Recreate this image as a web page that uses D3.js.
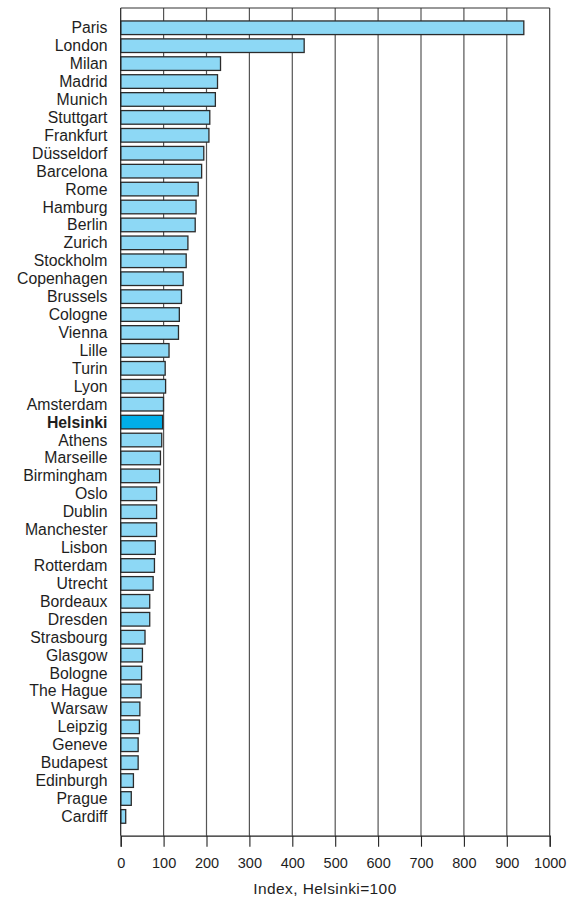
<!DOCTYPE html>
<html>
<head>
<meta charset="utf-8">
<script src="https://cdn.jsdelivr.net/npm/d3@7"></script>
<style>
  html, body { margin: 0; padding: 0; background: #fff; }
  svg { display: block; font-family: "Liberation Sans", Arial, Helvetica, sans-serif; }
</style>
</head>
<body>
<svg id="chart" width="574" height="899"></svg>
<script>
const cities = ["Paris","London","Milan","Madrid","Munich","Stuttgart","Frankfurt","Düsseldorf","Barcelona","Rome","Hamburg","Berlin","Zurich","Stockholm","Copenhagen","Brussels","Cologne","Vienna","Lille","Turin","Lyon","Amsterdam","Helsinki","Athens","Marseille","Birmingham","Oslo","Dublin","Manchester","Lisbon","Rotterdam","Utrecht","Bordeaux","Dresden","Strasbourg","Glasgow","Bologne","The Hague","Warsaw","Leipzig","Geneve","Budapest","Edinburgh","Prague","Cardiff"];
const values = [942,430,235,228,223,210,208,196,191,183,178,176,159,155,148,144,139,137,115,106,107,102,100,98,95,93,86,86,86,83,81,78,70,70,59,53,51,50,47,46,43,43,32,27,14];
const highlight = "Helsinki";
const xTicks = [0,100,200,300,400,500,600,700,800,900,1000];
const xTitle = "Index, Helsinki=100";

const svg = d3.select("#chart");
const pLeft = 120.7, pRight = 549.7, pTop = 8, pBottom = 835.7;

const x = d3.scaleLinear().domain([0, 1000]).range([pLeft, pRight]);
const y = d3.scaleBand().domain(cities).range([18.8, 825.4]).paddingInner(0.24).paddingOuter(0.12);

// gridlines
svg.append("g").selectAll("line").data(xTicks.filter(d => d > 0 && d < 1000)).join("line")
  .attr("x1", d => x(d)).attr("x2", d => x(d))
  .attr("y1", pTop).attr("y2", pBottom)
  .attr("stroke", "#555").attr("stroke-width", 1.2);

// frame top & right
svg.append("line").attr("x1", pLeft).attr("x2", pRight).attr("y1", pTop).attr("y2", pTop)
  .attr("stroke", "#333").attr("stroke-width", 1.1);
svg.append("line").attr("x1", pRight).attr("x2", pRight).attr("y1", pTop).attr("y2", pBottom)
  .attr("stroke", "#333").attr("stroke-width", 1.1);

// bars
svg.append("g").selectAll("rect").data(cities).join("rect")
  .attr("x", x(0))
  .attr("y", d => y(d))
  .attr("width", (d, i) => x(values[i]) - x(0) - 1)
  .attr("height", y.bandwidth())
  .attr("fill", d => d === highlight ? "#00aee8" : "#8dd8f5")
  .attr("stroke", "#2b2b2b")
  .attr("stroke-width", 1.3);

// left axis line
svg.append("line").attr("x1", pLeft).attr("x2", pLeft).attr("y1", pTop).attr("y2", pBottom)
  .attr("stroke", "#222").attr("stroke-width", 1.2);

// category labels
svg.append("g").selectAll("text").data(cities).join("text")
  .attr("x", 107.5)
  .attr("y", d => y(d) + y.bandwidth() / 2)
  .attr("dy", "0.35em")
  .attr("text-anchor", "end")
  .attr("font-size", 15.8)
  .attr("font-weight", d => d === highlight ? "bold" : "normal")
  .attr("fill", "#1e1e1e")
  .text(d => d);

// bottom axis
const xAxis = d3.axisBottom(x).tickValues(xTicks).tickSize(11).tickPadding(11).tickFormat(d3.format("d"));
const ax = svg.append("g").attr("transform", `translate(0,${pBottom})`).call(xAxis);
ax.select(".domain").attr("stroke", "#222").attr("stroke-width", 1.2);
ax.selectAll(".tick line").attr("stroke", "#222").attr("stroke-width", 1.1);
ax.selectAll(".tick text").attr("font-size", 14.5).attr("fill", "#1e1e1e")
  .attr("font-family", "'Liberation Sans', Arial, sans-serif");

svg.append("text")
  .attr("x", 325).attr("y", 894)
  .attr("text-anchor", "middle")
  .attr("font-size", 15.5).attr("fill", "#1e1e1e")
  .attr("letter-spacing", 0.4)
  .text(xTitle);
</script>
</body>
</html>
